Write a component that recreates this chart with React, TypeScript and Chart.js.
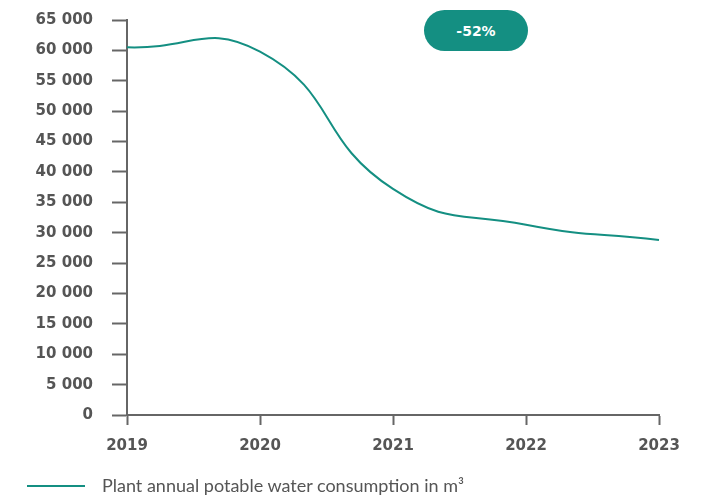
import React, { useEffect, useRef } from "react";
import { Chart, registerables } from "chart.js";

Chart.register(...registerables);

const years: string[] = ["2019", "2020", "2021", "2022", "2023"];
const consumption: number[] = [60500, 59800, 37200, 31300, 28800];
const seriesLabel = "Plant annual potable water consumption in m³";
const badgeText = "-52%";

const AXIS = "#666666";
const TEAL = "#148f82";
const LABEL = "#555555";
const TICK_FONT = { family: "'DejaVu Sans', sans-serif", size: 15, weight: "bold" as const };

export default function App() {
  const ref = useRef<HTMLCanvasElement | null>(null);

  useEffect(() => {
    if (!ref.current) return;
    const chart = new Chart(ref.current, {
      type: "line",
      data: {
        labels: years,
        datasets: [
          {
            label: seriesLabel,
            data: consumption,
            borderColor: TEAL,
            borderWidth: 2,
            pointRadius: 0,
            tension: 0.5,
            fill: false,
          },
        ],
      },
      options: {
        responsive: false,
        animation: false,
        elements: { line: { capBezierPoints: false } },
        layout: { padding: { top: 20, right: 50, left: 0, bottom: 0 } },
        plugins: { legend: { display: false }, tooltip: { enabled: false } },
        scales: {
          x: {
            offset: false,
            grid: {
              drawOnChartArea: false,
              drawTicks: true,
              tickLength: 10,
              tickWidth: 2,
              tickColor: AXIS,
              offset: false,
            },
            border: { display: true, color: AXIS, width: 2 },
            ticks: {
              padding: 12,
              color: LABEL,
              font: TICK_FONT,
              maxRotation: 0,
            },
            afterFit: (s: any) => {
              s.height = 83;
              s.paddingLeft = 0;
              s.paddingRight = 0;
            },
          },
          y: {
            min: 0,
            max: 65000,
            grid: {
              drawOnChartArea: false,
              drawTicks: true,
              tickLength: 15,
              tickWidth: 2,
              tickColor: AXIS,
            },
            border: { display: true, color: AXIS, width: 2 },
            ticks: {
              stepSize: 5000,
              padding: 19,
              color: LABEL,
              font: TICK_FONT,
              callback: (v: any) => String(v).replace(/\B(?=(\d{3})+(?!\d))/g, " "),
            },
            afterFit: (s: any) => {
              s.width = 127;
              s.paddingTop = 0;
              s.paddingBottom = 0;
            },
          },
        },
      },
    });
    return () => chart.destroy();
  }, []);

  return (
    <div style={{ position: "absolute", left: 0, top: 0, width: 709, height: 498, background: "#fff" }}>
      <canvas ref={ref} width={709} height={498} style={{ position: "absolute", left: 0, top: 0 }} />
      <div
        style={{
          position: "absolute",
          left: 424,
          top: 10,
          width: 104,
          height: 41,
          borderRadius: 21,
          background: TEAL,
          color: "#fff",
          fontFamily: "'DejaVu Sans', sans-serif",
          fontWeight: 700,
          fontSize: 14,
          display: "flex",
          alignItems: "center",
          justifyContent: "center",
        }}
      >
        {badgeText}
      </div>
      <div style={{ position: "absolute", left: 27, top: 485, width: 58, height: 2, background: TEAL }} />
      <div
        style={{
          position: "absolute",
          left: 102,
          top: 475,
          fontFamily: "Lato, sans-serif",
          fontSize: 18,
          lineHeight: 1.2,
          color: LABEL,
          whiteSpace: "nowrap",
        }}
      >
        {seriesLabel}
      </div>
    </div>
  );
}
